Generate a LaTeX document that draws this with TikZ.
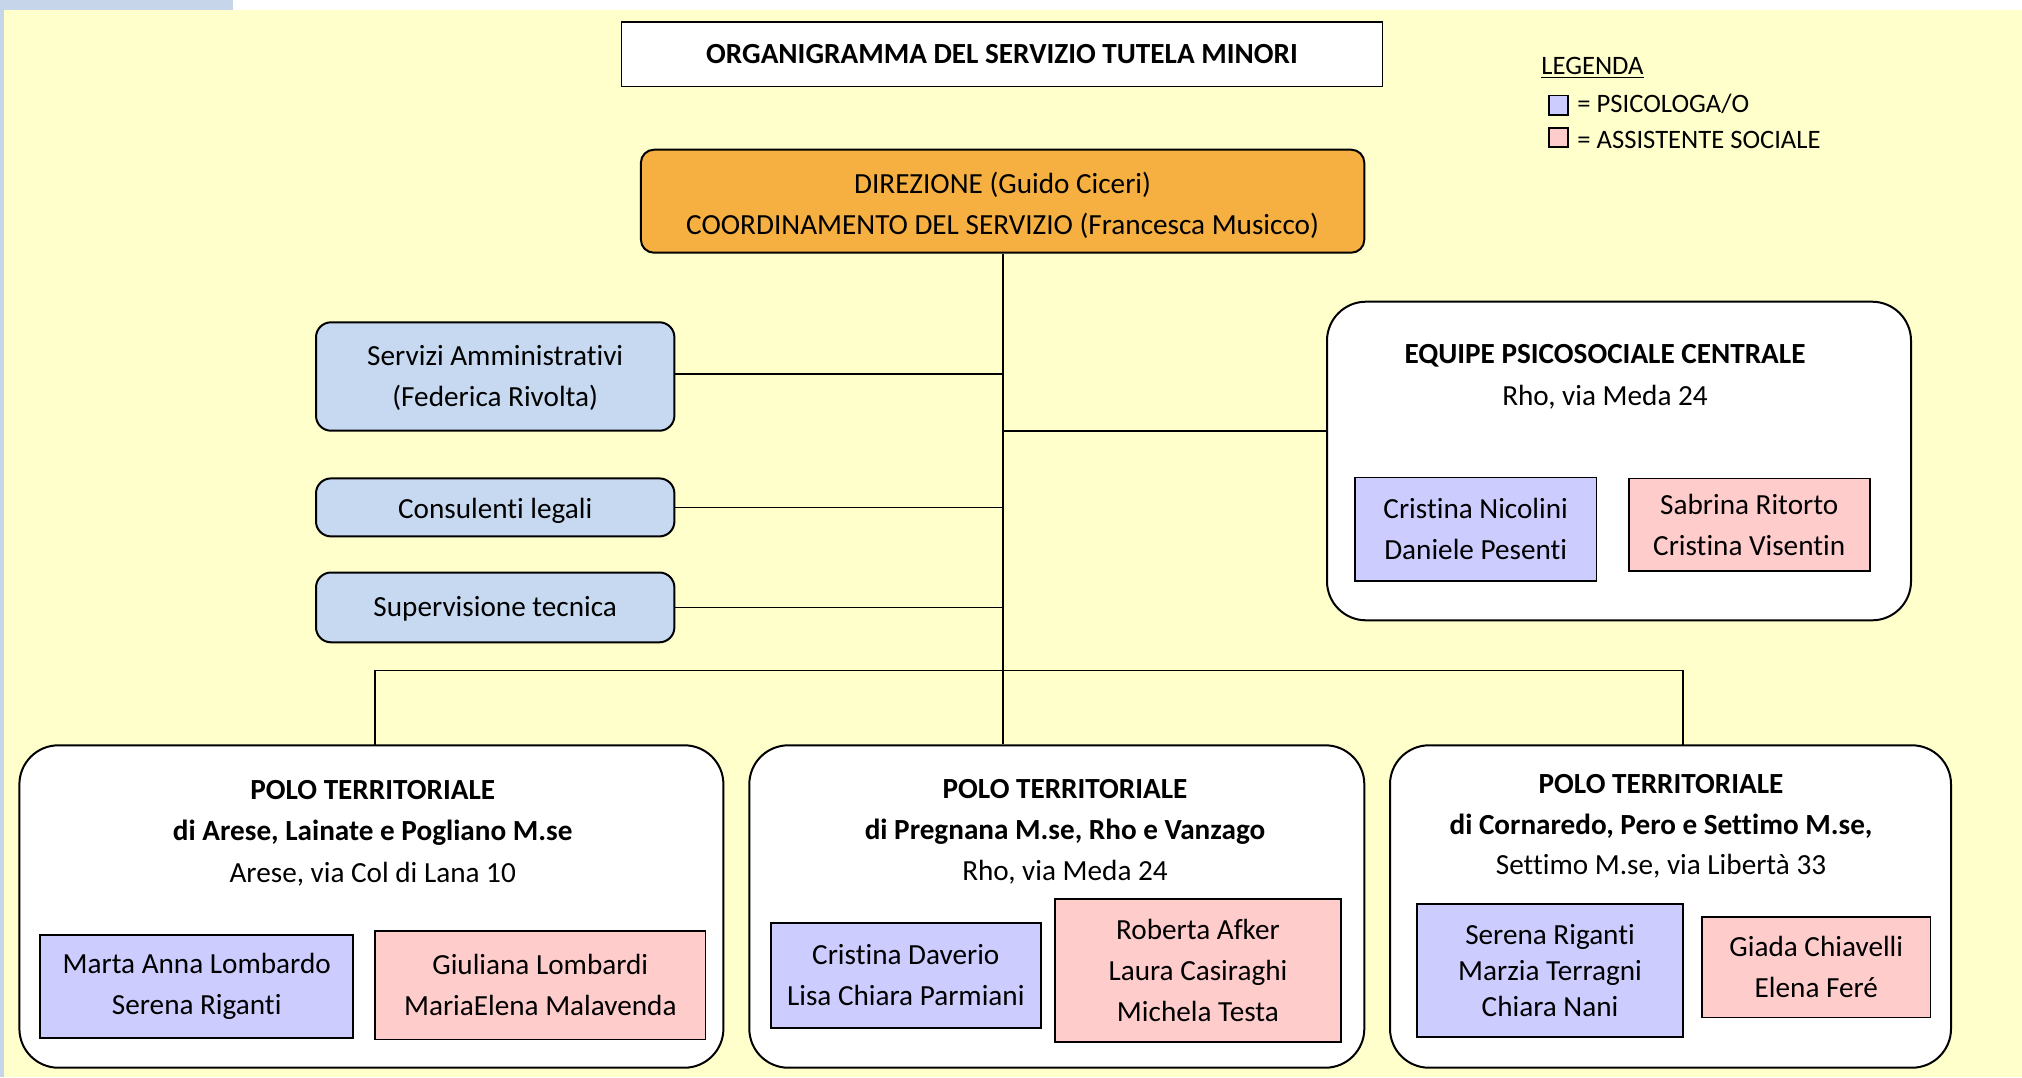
\documentclass[tikz,border=0pt]{standalone}
\usepackage{fontspec}
\setmainfont{Carlito}[Ligatures={NoCommon}]
\newcommand\mainfs{\fontsize{14.6}{20.5}\selectfont}
\newcommand\headfs{\fontsize{14.6}{21}\selectfont}
\newcommand\legfs{\fontsize{13.3}{16}\selectfont}
\definecolor{bgyellow}{HTML}{FFFFCC}
\definecolor{stripblue}{HTML}{C6D5EA}
\definecolor{boxblue}{HTML}{C6D9F1}
\definecolor{dirorange}{HTML}{F5B041}
\definecolor{psiblue}{HTML}{CCCCFF}
\definecolor{asspink}{HTML}{FFCCCC}
\begin{document}
\begin{tikzpicture}[x=0.5pt,y=-0.5pt,
  base/.style={draw=black, line width=1pt, align=center, inner sep=0pt, font=\mainfs, text=black},
  titlebox/.style={base, fill=white, line width=0.8pt, font=\mainfs\bfseries},
  dirbox/.style={base, fill=dirorange, rounded corners=6.5pt},
  sidebox/.style={base, fill=boxblue, rounded corners=7.5pt},
  groupbox/.style={base, fill=white, rounded corners=19.5pt},
  psibox/.style={base, fill=psiblue, line width=0.9pt},
  assbox/.style={base, fill=asspink, line width=0.9pt},
  boxtext/.style={font=\mainfs, align=center, inner sep=0pt, text=black},
  headtxt/.style={font=\headfs, inner sep=0pt, anchor=center},
  legtxt/.style={font=\legfs, inner sep=0pt, anchor=west},
  legsq/.style={draw=black, line width=0.8pt, minimum size=9.7pt, inner sep=0pt},
  conn/.style={draw=black, line width=0.9pt}
]
\useasboundingbox (0,0) rectangle (2022,1077);
% background
\fill[white] (0,0) rectangle (2022,1077);
\fill[stripblue] (0,0) rectangle (233,10);
\fill[stripblue] (0,0) rectangle (4,1077);
\fill[bgyellow] (4,10) rectangle (2022,1077);

% title
\node[titlebox, minimum width=380.5pt, minimum height=32.25pt] (title) at (1002,54.2) {ORGANIGRAMMA DEL SERVIZIO TUTELA MINORI};

% legend
\node[legtxt] (legtitle) at (1541,68) {\underline{LEGENDA}};
\node[legsq, fill=psiblue] (legpsi) at (1558.4,105.1) {};
\node[legsq, fill=asspink] (legass) at (1558.4,137.4) {};
\node[legtxt] (legpsitxt) at (1577,103.5) {= PSICOLOGA/O};
\node[legtxt] (legasstxt) at (1577,140) {= ASSISTENTE SOCIALE};

% direction
\node[dirbox, minimum width=361.7pt, minimum height=51.5pt,
  label={[boxtext, yshift=-2pt]center:DIREZIONE (Guido Ciceri)\\COORDINAMENTO DEL SERVIZIO (Francesca Musicco)}] (direz) at (1002.6,201.2) {};

% side boxes
\node[sidebox, minimum width=179.2pt, minimum height=54.2pt,
  label={[boxtext, yshift=-0.8pt]center:Servizi Amministrativi\\(Federica Rivolta)}] (serv) at (495.2,376.5) {};
\node[sidebox, minimum width=179.2pt, minimum height=29pt,
  label={[boxtext, yshift=-1.5pt]center:Consulenti legali}] (cons) at (495.2,507.4) {};
\node[sidebox, minimum width=179.2pt, minimum height=34.9pt,
  label={[boxtext, yshift=-0.5pt]center:Supervisione tecnica}] (superv) at (495.2,607.4) {};

% equipe
\node[groupbox, minimum width=292pt, minimum height=159.3pt] (equipe) at (1619,461) {};
\node[headtxt, font=\headfs\bfseries] (eqtitle) at (1605,355.5) {EQUIPE PSICOSOCIALE CENTRALE};
\node[headtxt] (eqaddr) at (1605,397) {Rho, via Meda 24};
\node[psibox, minimum width=120.7pt, minimum height=51.6pt] (eqpsi) at (1475.7,529) {Cristina Nicolini\\Daniele Pesenti};
\node[assbox, minimum width=120.6pt, minimum height=46.4pt] (eqass) at (1749.2,524.8) {Sabrina Ritorto\\Cristina Visentin};

% polo 1
\node[groupbox, minimum width=352pt, minimum height=161.2pt] (polo1) at (371.4,906.5) {};
\node[headtxt, font=\headfs\bfseries] (p1t1) at (372.7,790.5) {POLO TERRITORIALE};
\node[headtxt, font=\headfs\bfseries] (p1t2) at (372.7,833) {di Arese, Lainate e Pogliano M.se};
\node[headtxt] (p1t3) at (372.7,874.5) {Arese, via Col di Lana 10};
\node[psibox, minimum width=156.6pt, minimum height=51.5pt] (p1psi) at (196.7,986.5) {Marta Anna Lombardo\\Serena Riganti};
\node[assbox, minimum width=165.1pt, minimum height=54.2pt] (p1ass) at (540.3,985.2) {Giuliana Lombardi\\MariaElena Malavenda};

% polo 2
\node[groupbox, minimum width=307.5pt, minimum height=161.2pt] (polo2) at (1056.8,906.5) {};
\node[headtxt, font=\headfs\bfseries] (p2t1) at (1065,789.5) {POLO TERRITORIALE};
\node[headtxt, font=\headfs\bfseries] (p2t2) at (1065,832) {di Pregnana M.se, Rho e Vanzago};
\node[headtxt] (p2t3) at (1065,872) {Rho, via Meda 24};
\node[psibox, minimum width=134.8pt, minimum height=52.2pt] (p2psi) at (905.8,975.5) {Cristina Daverio\\Lisa Chiara Parmiani};
\node[assbox, minimum width=143.1pt, minimum height=71.6pt] (p2ass) at (1197.9,970.4) {Roberta Afker\\Laura Casiraghi\\Michela Testa};

% polo 3
\node[groupbox, minimum width=280.5pt, minimum height=161.2pt] (polo3) at (1670.5,906.5) {};
\node[headtxt, font=\headfs\bfseries] (p3t1) at (1661,784) {POLO TERRITORIALE};
\node[headtxt, font=\headfs\bfseries] (p3t2) at (1661,826.5) {di Cornaredo, Pero e Settimo M.se,};
\node[headtxt] (p3t3) at (1661,866.5) {Settimo M.se, via Libertà 33};
\node[psibox, minimum width=132.8pt, minimum height=66.4pt, font=\fontsize{14.6}{18}\selectfont] (p3psi) at (1550,970.4) {Serena Riganti\\Marzia Terragni\\Chiara Nani};
\node[assbox, minimum width=114.1pt, minimum height=50.3pt] (p3ass) at (1816.3,967.1) {Giada Chiavelli\\Elena Feré};

% connectors
\coordinate (eqin) at (1327,430.7);
\coordinate (servout) at (674.4,374);
\coordinate (p1top) at (375.2,745.3);
\coordinate (p3top) at (1682.8,745.3);
\draw[conn] (direz.south) -- (direz.south |- polo2.north);
\draw[conn] (servout) -- (servout -| direz.south);
\draw[conn] (cons.east) -- (cons.east -| direz.south);
\draw[conn] (superv.east) -- (superv.east -| direz.south);
\draw[conn] (eqin) -- (eqin -| direz.south);
\draw[conn] (p1top) -- ++(0,-74.8) -| (p3top);
\end{tikzpicture}
\end{document}
